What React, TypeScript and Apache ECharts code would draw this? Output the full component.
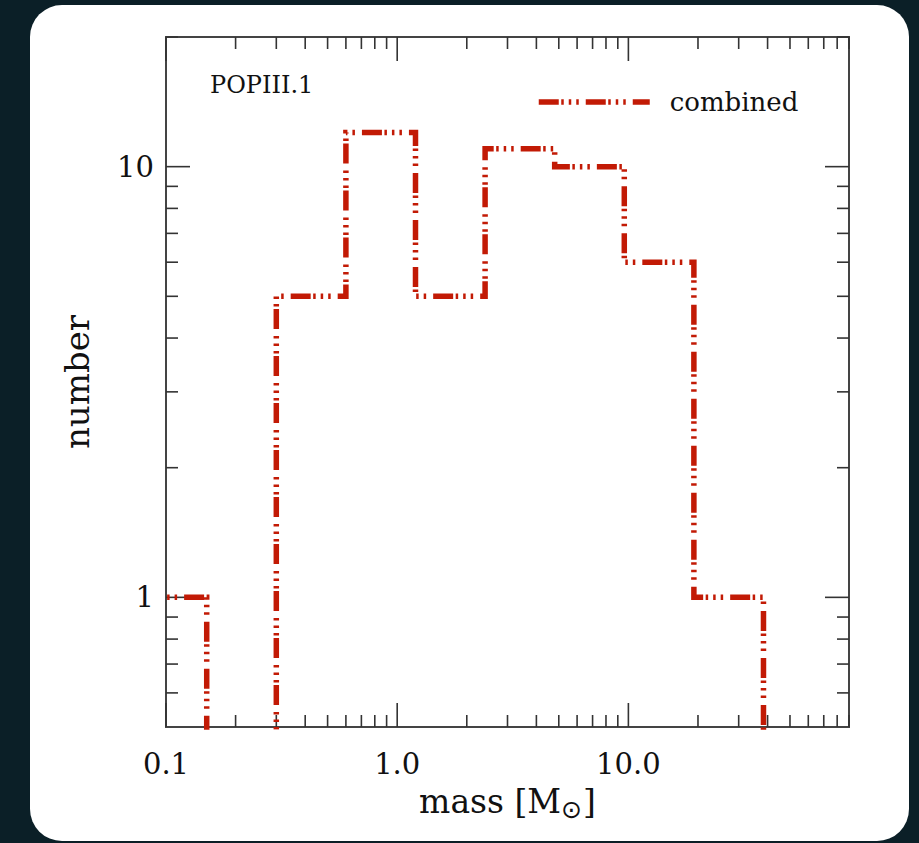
import React, { useEffect, useRef } from 'react';
import * as echarts from 'echarts';

// ---- data ----
const binEdges = [0.075, 0.15, 0.3, 0.6, 1.2, 2.4, 4.8, 9.6, 19.2, 38.4, 76.8];
const counts = [1, 0, 5, 12, 5, 11, 10, 6, 1, 0];
const seriesName = 'combined';
const panelLabel = 'POPIII.1';

const xMajorTicks = [0.1, 1, 10];
const xMinorTicks = [0.2, 0.3, 0.4, 0.5, 0.6, 0.7, 0.8, 0.9, 2, 3, 4, 5, 6, 7, 8, 9, 20, 30, 40, 50, 60, 70, 80, 90];
const yMajorTicks = [1, 10];
const yMinorTicks = [0.6, 0.7, 0.8, 0.9, 2, 3, 4, 5, 6, 7, 8, 9, 20];
const xLabelValues = [0.1, 1, 10];
const xLabelTexts = ['0.1', '1.0', '10.0'];
const yLabelValues = [1, 10];
const yLabelTexts = ['1', '10'];

const X_MIN = 0.1;
const X_MAX = 90;
const Y_MIN = 0.5;
const Y_MAX = 20;
const ZERO_FLOOR = 0.1; // empty bins drawn below the visible range

const RED = '#c21a05';
const INK = '#333333';
const FONT = 'DejaVu Serif';
const MAJOR_LEN = 24;
const MINOR_LEN = 12;
const DASH = [20, 2.5, 2.5, 5, 2.5, 5, 2.5, 7];

function labelFor(values: number[], texts: string[]) {
  return (v: number) => {
    const i = values.findIndex((t) => Math.abs(Math.log10(v) - Math.log10(t)) < 1e-6);
    return i >= 0 ? texts[i] : '';
  };
}

export default function App() {
  const ref = useRef<HTMLDivElement>(null);

  useEffect(() => {
    if (!ref.current) return;
    const chart = echarts.init(ref.current, null, { renderer: 'svg' });

    const stepPoints: number[][] = [];
    counts.forEach((c, i) => {
      const y = c > 0 ? c : ZERO_FLOOR;
      stepPoints.push([binEdges[i], y], [binEdges[i + 1], y]);
    });

    const xTickData = [
      ...xMajorTicks.map((v) => [v, Y_MIN, 1]),
      ...xMinorTicks.map((v) => [v, Y_MIN, 0]),
    ];
    const yTickData = [
      ...yMajorTicks.map((v) => [X_MIN, v, 1]),
      ...yMinorTicks.map((v) => [X_MIN, v, 0]),
    ];
    const tickStyle = { stroke: INK, lineWidth: 1.6 };

    chart.setOption({
      animation: false,
      backgroundColor: 'transparent',
      title: {
        text: panelLabel,
        left: 205,
        top: 68,
        textStyle: { fontFamily: FONT, fontSize: 24, fontWeight: 'normal', color: '#111' },
      },
      legend: {
        data: [seriesName],
        left: 531,
        top: 84,
        itemWidth: 111,
        itemHeight: 14,
        itemStyle: { opacity: 0 },
        lineStyle: { color: RED, width: 5.5, type: DASH, cap: 'butt' },
        textStyle: { fontFamily: FONT, fontSize: 26, color: '#111', padding: [0, 0, 14, 15] },
      },
      grid: {
        left: 166,
        top: 37,
        right: 70,
        bottom: 116,
        show: true,
        borderColor: '#444',
        borderWidth: 2,
        backgroundColor: 'transparent',
      },
      xAxis: {
        type: 'log',
        logBase: 10,
        min: X_MIN,
        max: X_MAX,
        axisLine: { show: false },
        axisTick: { show: false },
        splitLine: { show: false },
        axisLabel: {
          formatter: labelFor(xLabelValues, xLabelTexts),
          fontFamily: FONT,
          fontSize: 29,
          color: '#111',
          margin: 22,
          showMinLabel: true,
          showMaxLabel: false,
        },
        name: 'mass [M{sub|⊙}]',
        nameLocation: 'middle',
        nameGap: 54,
        nameTextStyle: {
          fontFamily: FONT,
          fontSize: 33,
          color: '#111',
          rich: {
            sub: { fontFamily: 'DejaVu Sans', fontSize: 25, color: '#111', verticalAlign: 'bottom', padding: [16, 1, 0, 0] },
          },
        },
      },
      yAxis: {
        type: 'log',
        logBase: 10,
        min: Y_MIN,
        max: Y_MAX,
        axisLine: { show: false },
        axisTick: { show: false },
        splitLine: { show: false },
        axisLabel: {
          formatter: labelFor(yLabelValues, yLabelTexts),
          fontFamily: FONT,
          fontSize: 29,
          color: '#111',
          margin: 12,
          showMinLabel: false,
          showMaxLabel: false,
        },
        name: 'number',
        nameLocation: 'middle',
        nameGap: 72,
        nameTextStyle: { fontFamily: FONT, fontSize: 34, color: '#111' },
      },
      series: [
        {
          name: seriesName,
          type: 'line',
          data: stepPoints,
          showSymbol: false,
          symbol: 'none',
          clip: true,
          lineStyle: { color: RED, width: 5.5, type: DASH, cap: 'butt', join: 'miter' },
          itemStyle: { color: RED },
          z: 3,
        },
        {
          type: 'custom',
          coordinateSystem: 'cartesian2d',
          silent: true,
          clip: false,
          data: xTickData,
          renderItem: (_p: any, api: any) => {
            const x = api.value(0);
            const len = api.value(2) ? MAJOR_LEN : MINOR_LEN;
            const b = api.coord([x, Y_MIN]);
            const t = api.coord([x, Y_MAX]);
            return {
              type: 'group',
              children: [
                { type: 'line', shape: { x1: b[0], y1: b[1], x2: b[0], y2: b[1] - len }, style: tickStyle },
                { type: 'line', shape: { x1: t[0], y1: t[1], x2: t[0], y2: t[1] + len }, style: tickStyle },
              ],
            };
          },
          z: 2,
        },
        {
          type: 'custom',
          coordinateSystem: 'cartesian2d',
          silent: true,
          clip: false,
          data: yTickData,
          renderItem: (_p: any, api: any) => {
            const y = api.value(1);
            const len = api.value(2) ? MAJOR_LEN : MINOR_LEN;
            const l = api.coord([X_MIN, y]);
            const r = api.coord([X_MAX, y]);
            return {
              type: 'group',
              children: [
                { type: 'line', shape: { x1: l[0], y1: l[1], x2: l[0] + len, y2: l[1] }, style: tickStyle },
                { type: 'line', shape: { x1: r[0], y1: r[1], x2: r[0] - len, y2: r[1] }, style: tickStyle },
              ],
            };
          },
          z: 2,
        },
      ],
    });

    return () => chart.dispose();
  }, []);

  return (
    <div style={{ position: 'fixed', left: 0, top: 0, width: 919, height: 843, background: '#0b1f27', overflow: 'hidden' }}>
      <div
        style={{
          position: 'absolute',
          left: 30,
          top: 5,
          width: 879,
          height: 836,
          background: '#ffffff',
          borderRadius: 32,
        }}
      />
      <div ref={ref} style={{ position: 'absolute', left: 0, top: 0, width: 919, height: 843 }} />
    </div>
  );
}
